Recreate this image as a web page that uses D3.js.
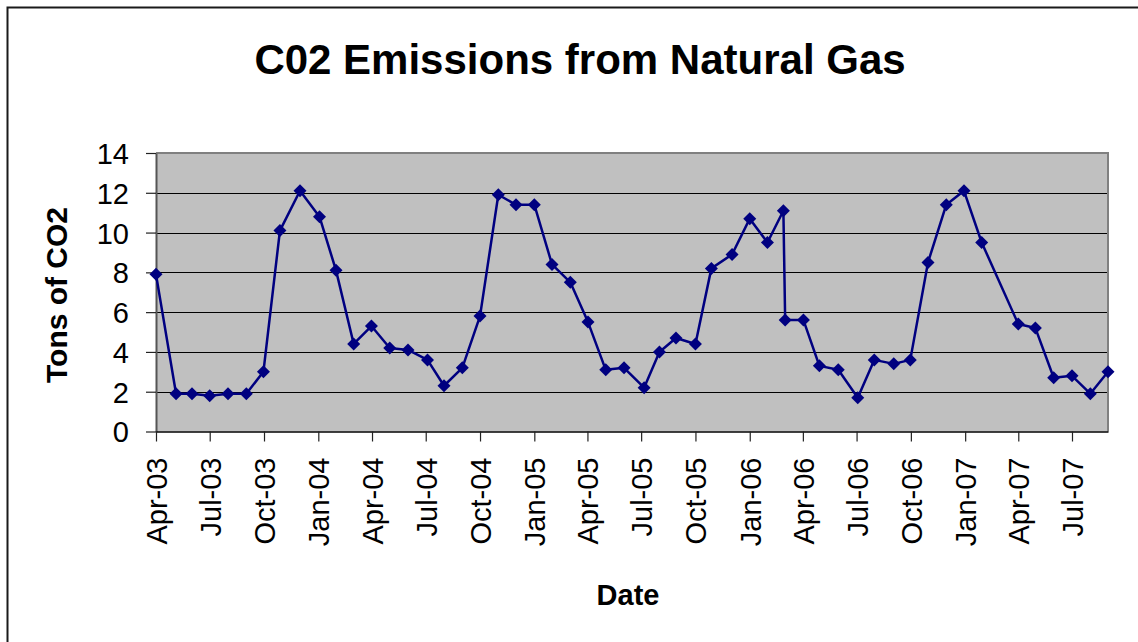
<!DOCTYPE html>
<html>
<head>
<meta charset="utf-8">
<script src="https://cdn.jsdelivr.net/npm/d3@7"></script>
<style>
  html, body { margin: 0; padding: 0; background: #fff; }
  svg { display: block; font-family: "Liberation Sans", Arial, sans-serif; }
</style>
</head>
<body>
<script>
// ---- Data ----
const title = "C02 Emissions from Natural Gas";
const xTitle = "Date";
const yTitle = "Tons of CO2";
const dates = [
  "2003-04-01","2003-05-05","2003-06-01","2003-07-01","2003-08-01","2003-09-01","2003-09-30","2003-10-28","2003-12-01",
  "2004-01-03","2004-01-31","2004-03-01","2004-03-31","2004-05-01","2004-06-01","2004-07-04","2004-08-01","2004-09-01",
  "2004-10-01","2004-11-01","2004-12-01","2005-01-01","2005-01-31","2005-03-03","2005-04-02","2005-05-02","2005-06-02",
  "2005-07-06","2005-08-01","2005-08-29","2005-10-01","2005-10-28","2005-12-02","2006-01-01","2006-01-31","2006-02-27",
  "2006-03-02","2006-04-02","2006-04-29","2006-05-31","2006-07-03","2006-07-31","2006-09-02","2006-09-30","2006-10-30",
  "2006-11-30","2006-12-30","2007-01-29","2007-04-01","2007-04-30","2007-05-31","2007-07-01","2007-08-01","2007-08-31"
];
const values = [
  7.9, 1.9, 1.9, 1.8, 1.9, 1.9, 3.0, 10.1, 12.1,
  10.8, 8.1, 4.4, 5.3, 4.2, 4.1, 3.6, 2.3, 3.2,
  5.8, 11.9, 11.4, 11.4, 8.4, 7.5, 5.5, 3.1, 3.2,
  2.2, 4.0, 4.7, 4.4, 8.2, 8.9, 10.7, 9.5, 11.1,
  5.6, 5.6, 3.3, 3.1, 1.7, 3.6, 3.4, 3.6, 8.5,
  11.4, 12.1, 9.5, 5.4, 5.2, 2.7, 2.8, 1.9, 3.0
];
const yTicks = [0, 2, 4, 6, 8, 10, 12, 14];

// ---- Setup ----
const W = 1138, H = 642;
const parse = d3.timeParse("%Y-%m-%d");
const data = dates.map((d, i) => ({ date: parse(d), value: values[i] }));

const svg = d3.select("body").append("svg").attr("width", W).attr("height", H);

// outer chart border
svg.append("rect").attr("x", 7.5).attr("y", 7.5).attr("width", W + 20).attr("height", H + 20)
  .attr("fill", "#fff").attr("stroke", "#1a1a1a").attr("stroke-width", 2);

const plot = { left: 156, right: 1108, top: 153, bottom: 431.5 };

const x = d3.scaleTime().domain(d3.extent(data, d => d.date)).range([plot.left, plot.right]);
const y = d3.scaleLinear().domain([0, 14]).range([plot.bottom, plot.top]);

// plot background
svg.append("rect").attr("x", plot.left).attr("y", plot.top)
  .attr("width", plot.right - plot.left).attr("height", plot.bottom - plot.top)
  .attr("fill", "#C0C0C0");

// gridlines
svg.append("g").selectAll("line").data(yTicks.filter(t => t > 0 && t < 14)).join("line")
  .attr("x1", plot.left).attr("x2", plot.right)
  .attr("y1", d => Math.round(y(d)) + 0.5).attr("y2", d => Math.round(y(d)) + 0.5)
  .attr("stroke", "#000").attr("stroke-width", 1.2);

// plot border (top & right gray)
svg.append("path")
  .attr("d", `M${plot.left},${plot.top} H${plot.right} V${plot.bottom}`)
  .attr("fill", "none").attr("stroke", "#808080").attr("stroke-width", 2);

// y axis
const yAxis = svg.append("g").attr("transform", `translate(${plot.left},0)`)
  .call(d3.axisLeft(y).tickValues(yTicks).tickSizeInner(10).tickSizeOuter(0).tickPadding(17).tickFormat(d3.format("d")));
yAxis.select(".domain").attr("stroke", "#555").attr("stroke-width", 2);
yAxis.selectAll(".tick line").attr("stroke", "#222").attr("stroke-width", 1.2);
yAxis.selectAll(".tick text").attr("font-size", 29).attr("fill", "#000")
  .attr("font-family", "'Liberation Sans', Arial, sans-serif").attr("dy", "0.36em");

// x axis
const xAxis = svg.append("g").attr("transform", `translate(0,${plot.bottom})`)
  .call(d3.axisBottom(x).ticks(d3.timeMonth.every(3)).tickSizeInner(10).tickSizeOuter(0).tickFormat(d3.timeFormat("%b-%y")));
xAxis.select(".domain").attr("stroke", "#000").attr("stroke-width", 1.5);
xAxis.selectAll(".tick line").attr("stroke", "#222").attr("stroke-width", 1.2);
xAxis.selectAll(".tick text").attr("font-size", 29).attr("fill", "#000")
  .attr("font-family", "'Liberation Sans', Arial, sans-serif")
  .attr("text-anchor", "end")
  .attr("transform", "rotate(-90)")
  .attr("x", -26).attr("y", 0).attr("dy", "0.36em");

// line
svg.append("path").datum(data)
  .attr("d", d3.line().x(d => x(d.date)).y(d => y(d.value)))
  .attr("fill", "none").attr("stroke", "#000080").attr("stroke-width", 2.5)
  .attr("stroke-linejoin", "round");

// diamond markers
const h = 6.5;
svg.append("g").selectAll("path").data(data).join("path")
  .attr("d", `M0,${-h}L${h},0L0,${h}L${-h},0Z`)
  .attr("transform", d => `translate(${x(d.date)},${y(d.value)})`)
  .attr("fill", "#000080");

// titles
svg.append("text").attr("x", 580).attr("y", 74).attr("text-anchor", "middle")
  .attr("font-size", 42).attr("font-weight", "bold").text(title);

svg.append("text").attr("x", 628).attr("y", 605).attr("text-anchor", "middle")
  .attr("font-size", 29).attr("font-weight", "bold").text(xTitle);

svg.append("text").attr("transform", "translate(67,295) rotate(-90)").attr("text-anchor", "middle")
  .attr("font-size", 30).attr("font-weight", "bold").text(yTitle);
</script>
</body>
</html>
